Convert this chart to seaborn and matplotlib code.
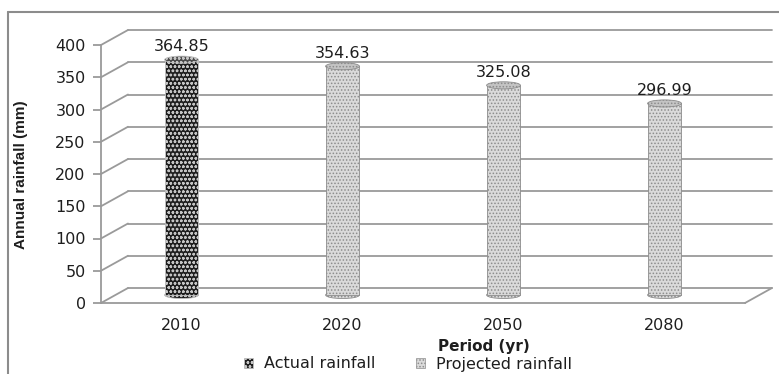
import matplotlib
matplotlib.use("Agg")
import matplotlib.pyplot as plt
import matplotlib.transforms as mtransforms
from matplotlib.patches import Ellipse, Patch
from matplotlib.lines import Line2D
import seaborn as sns
import pandas as pd

# Data
periods = ["2010", "2020", "2050", "2080"]
rainfall = [364.85, 354.63, 325.08, 296.99]
series = ["Actual rainfall", "Projected rainfall", "Projected rainfall", "Projected rainfall"]
yticks = [0, 50, 100, 150, 200, 250, 300, 350, 400]

df = pd.DataFrame({"period": periods, "rainfall": rainfall, "series": series})

sns.set_style("white")
plt.rcParams["font.family"] = ["DejaVu Sans"]
plt.rcParams["hatch.linewidth"] = 0.7

W, H, DPI = 779, 374, 100
fig = plt.figure(figsize=(W / DPI, H / DPI), dpi=DPI)

# front plane of the pseudo-3D box, in pixels
x0, x1 = 101, 745
y_bot, y_top = 303, 45
ax = fig.add_axes([x0 / W, (H - y_bot) / H, (x1 - x0) / W, (y_bot - y_top) / H])

styles = {
    "Actual rainfall": dict(face="#1e1e1e", edge="#c4c4c4", hatch="oooo", cap="#4a4a4a"),
    "Projected rainfall": dict(face="#dadada", edge="#8c8c8c", hatch=".....", cap="#c4c4c4"),
}

bar_w = 0.21
sns.barplot(data=df, x="period", y="rainfall", hue="series", order=periods,
            hue_order=list(styles), dodge=False, width=bar_w, legend=False,
            saturation=1, ax=ax, zorder=3)

ax.set_xlim(-0.5, 3.5)
ax.set_ylim(0, 400)

# bars stand in the middle of the box depth
mid = mtransforms.ScaledTranslation(0, 8 / DPI, fig.dpi_scale_trans)
bar_trans = ax.transData + mid
back_trans = ax.transData + mtransforms.ScaledTranslation(27 / DPI, 15 / DPI, fig.dpi_scale_trans)

cap_h = 11  # cylinder cap height in data units
for container, name in zip(ax.containers, styles):
    st = styles[name]
    for bar in container:
        bar.set_transform(bar_trans)
        bar.set_facecolor(st["face"])
        bar.set_edgecolor(st["edge"])
        bar.set_hatch(st["hatch"])
        bar.set_linewidth(0.6)
        bar.set_clip_on(False)
        cx = bar.get_x() + bar.get_width() / 2
        v = bar.get_height()
        # rounded bottom and top cap of the cylinder
        bottom = Ellipse((cx, 0), bar.get_width(), cap_h, transform=bar_trans,
                         facecolor=st["face"], edgecolor=st["edge"], hatch=st["hatch"],
                         linewidth=0.6, zorder=2.9, clip_on=False)
        top = Ellipse((cx, v), bar.get_width(), cap_h, transform=bar_trans,
                      facecolor=st["cap"], edgecolor=st["edge"], hatch=st["hatch"],
                      linewidth=0.6, zorder=3.1, clip_on=False)
        ax.add_patch(bottom)
        ax.add_patch(top)
        ax.annotate(f"{v:.2f}", xy=(cx, v), xycoords=bar_trans, xytext=(0, 4),
                    textcoords="offset points", ha="center", va="bottom",
                    fontsize=11.5, color="#1e1e1e", zorder=5, annotation_clip=False)

grid_c = "#9a9a9a"
# back wall gridlines and left side wall diagonals
for v in yticks:
    ax.plot([-0.5, 3.5], [v, v], transform=back_trans, color=grid_c, lw=1.3,
            clip_on=False, zorder=0)
    ax.annotate("", xy=(-0.5, v), xytext=(27, 15), textcoords="offset pixels",
                arrowprops=dict(arrowstyle="-", color=grid_c, lw=1.3, shrinkA=0, shrinkB=0),
                annotation_clip=False, zorder=0)
# right edge of the floor
ax.annotate("", xy=(3.5, 0), xytext=(27, 15), textcoords="offset pixels",
            arrowprops=dict(arrowstyle="-", color=grid_c, lw=1.3, shrinkA=0, shrinkB=0),
            annotation_clip=False, zorder=0)

ax.patch.set_alpha(0)
for s in ["top", "right"]:
    ax.spines[s].set_visible(False)
for s in ["left", "bottom"]:
    ax.spines[s].set_color(grid_c)
    ax.spines[s].set_linewidth(1.3)

ax.set_yticks(yticks)
ax.tick_params(axis="y", direction="out", length=6, width=1.3, color=grid_c,
               labelsize=11.5, labelcolor="#1e1e1e", pad=5, left=True)
ax.tick_params(axis="x", length=0, labelsize=11.5, labelcolor="#1e1e1e", pad=11)

ax.set_ylabel("Annual rainfall (mm)", fontsize=11, fontweight="bold",
              family=["Liberation Sans", "DejaVu Sans"], color="#1e1e1e")
ax.yaxis.set_label_coords(-0.113, 0.496)
ax.set_xlabel("Period (yr)", fontsize=11, fontweight="bold", color="#1e1e1e")
ax.xaxis.set_label_coords(0.595, -0.138)

handles = [Patch(facecolor=styles[n]["face"], edgecolor=styles[n]["edge"],
                 hatch=styles[n]["hatch"], linewidth=0.5, label=n) for n in styles]
fig.legend(handles=handles, loc="center", bbox_to_anchor=(408 / W, (H - 364) / H),
           ncol=2, frameon=False, fontsize=11.5, handlelength=0.6, handleheight=0.6,
           handletextpad=0.7, columnspacing=2.5, labelcolor="#1e1e1e",
           borderpad=0.1)

# outer chart frame
frame_c = "#8c8c8c"
fig.add_artist(Line2D([8 / W, 8 / W], [0, (H - 12) / H], color=frame_c, lw=1.5,
                      transform=fig.transFigure))
fig.add_artist(Line2D([8 / W, 1], [(H - 12) / H, (H - 12) / H], color=frame_c, lw=1.5,
                      transform=fig.transFigure))

fig.savefig("out.png", dpi=DPI)
